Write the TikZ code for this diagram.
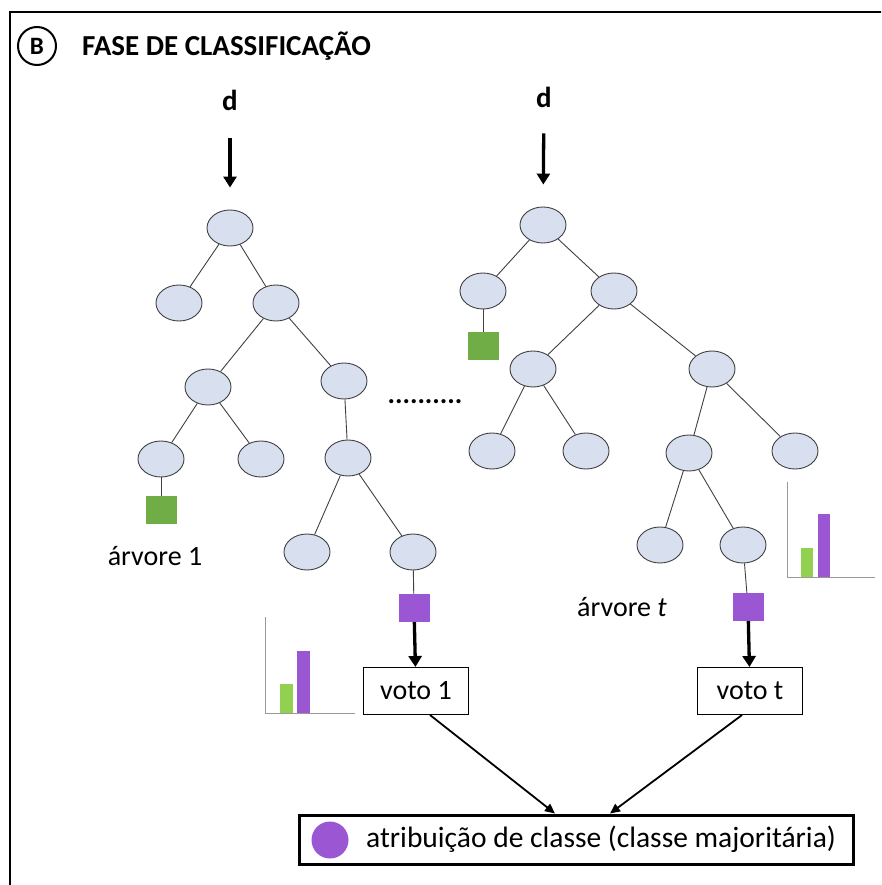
\documentclass[tikz,border=0pt]{standalone}
\usepackage{fontspec}
\setmainfont{Carlito}
\usepackage{xcolor}
\usepackage{tikz}
\usetikzlibrary{arrows.meta,positioning,shapes.geometric}

\definecolor{knotfill}{RGB}{216,223,238}
\definecolor{leafgreen}{RGB}{112,173,71}
\definecolor{barlime}{RGB}{146,208,80}
\definecolor{votepurple}{RGB}{155,87,211}

\begin{document}
\begin{tikzpicture}[
    x=1pt, y=-1pt,
    knot/.style={draw=black!75, ellipse, fill=knotfill, line width=0.9pt, minimum width=46pt, minimum height=36pt, inner sep=0pt},
    branch/.style={draw=black!75, line width=0.9pt},
    leaf/.style={rectangle, minimum width=31pt, minimum height=28pt, inner sep=0pt},
    vote/.style={draw, rectangle, line width=1pt, minimum width=105pt, minimum height=47pt, font=\fontsize{28}{32}\selectfont},
    txt/.style={font=\fontsize{28}{32}\selectfont, inner sep=0pt},
    bold/.style={font=\fontsize{29}{34}\selectfont\bfseries, inner sep=0pt},
    arr/.style={-{Triangle[length=11pt,width=13pt]}, line width=3.3pt},
    thinarr/.style={-{Triangle[length=10pt,width=9pt]}, line width=1.8pt},
    axis/.style={draw=black!40, line width=1pt},
]
\clip (0,0) rectangle (881,885);
\useasboundingbox (0,0) rectangle (881,885);

% Frame and title
\draw[line width=2.5pt] (10,895) -- (10,12) -- (895,12);
\node[draw, circle, line width=2pt, minimum size=38pt, inner sep=0pt, font=\fontsize{25}{28}\selectfont\bfseries] (badge) at (37,46) {B};
\node[bold, anchor=west] (title) at (82,46) {FASE DE CLASSIFICAÇÃO};

% Left tree
\node[bold] (dl) at (230,100) {d};
\node[knot] (l0) at (230,228) {};
\node[knot] (l1) at (179,303) {};
\node[knot] (l2) at (276,303) {};
\node[knot] (l21) at (208,387) {};
\node[knot] (l22) at (344,381) {};
\node[knot] (l211) at (161,459) {};
\node[knot] (l212) at (261,459) {};
\node[knot] (l221) at (348,458) {};
\node[knot] (l2211) at (307,552) {};
\node[knot] (l2212) at (413,552) {};
\node[leaf, fill=leafgreen] (lg) at (161,510) {};
\node[leaf, fill=votepurple] (lp) at (414,608) {};
\node[txt] (treel) at (155,556) {árvore 1};

\draw[branch] (l0) -- (l1);
\draw[branch] (l0) -- (l2);
\draw[branch] (l2) -- (l21);
\draw[branch] (l2) -- (l22);
\draw[branch] (l21) -- (l211);
\draw[branch] (l21) -- (l212);
\draw[branch] (l22) -- (l221);
\draw[branch] (l221) -- (l2211);
\draw[branch] (l221) -- (l2212);
\draw[branch] (l211) -- (lg);
\draw[branch] (l2212) -- (lp);
\draw[arr, shorten <=28pt, shorten >=22pt] (dl) -- (l0);

% Left vote
\node[vote] (voto1) at (416,691) {voto 1};
\draw[arr] (lp) -- (voto1);

% Left histogram
\coordinate (hl) at (265,713);
\draw[axis] (hl) ++(0,-96) |- ++(90,96);
\fill[barlime] (280,713) rectangle (293,684);
\fill[votepurple] (297,713) rectangle (310,651);

% Gap between trees
\node[bold, font=\fontsize{28}{32}\selectfont\bfseries] (gap) at (425,402) {..........};

% Right tree
\node[bold] (dr) at (544,97) {d};
\node[knot] (r0) at (543,225) {};
\node[knot] (r1) at (483,291) {};
\node[knot] (r2) at (614,291) {};
\node[knot] (r21) at (533,369) {};
\node[knot] (r22) at (712,369) {};
\node[knot] (r211) at (492,451) {};
\node[knot] (r212) at (586,451) {};
\node[knot] (r221) at (689,453) {};
\node[knot] (r222) at (795,451) {};
\node[knot] (r2211) at (660,545) {};
\node[knot] (r2212) at (743,545) {};
\node[leaf, fill=leafgreen] (rg) at (483,346) {};
\node[leaf, fill=votepurple] (rp) at (748,607) {};
\node[txt] (treer) at (622,607) {árvore \textit{t}};

\draw[branch] (r0) -- (r1);
\draw[branch] (r0) -- (r2);
\draw[branch] (r1) -- (rg);
\draw[branch] (r2) -- (r21);
\draw[branch] (r2) -- (r22);
\draw[branch] (r21) -- (r211);
\draw[branch] (r21) -- (r212);
\draw[branch] (r22) -- (r221);
\draw[branch] (r22) -- (r222);
\draw[branch] (r221) -- (r2211);
\draw[branch] (r221) -- (r2212);
\draw[branch] (r2212) -- (rp);
\draw[arr, shorten <=26pt, shorten >=22pt] (dr) -- (r0);

% Right vote
\node[vote] (votot) at (750,691) {voto t};
\draw[arr] (rp) -- (votot);

% Right histogram
\coordinate (hr) at (787,577);
\draw[axis] (hr) ++(0,-95) |- ++(88,95);
\fill[barlime] (801,577) rectangle (813,548);
\fill[votepurple] (818,577) rectangle (830,514);

% Majority class
\node[draw, rectangle, line width=3pt, minimum width=554pt, minimum height=49pt] (final) at (576,839.5) {};
\node[circle, fill=votepurple, minimum size=37pt, inner sep=0pt] (dot) at (330,840) {};
\node[txt, anchor=west, font=\fontsize{29.5}{34}\selectfont] (finaltxt) at (366,839) {atribuição de classe (classe majoritária)};
\draw[thinarr] ([xshift=14pt]voto1.south) -- ([xshift=-21pt]final.north);
\draw[thinarr] ([xshift=-8pt]votot.south) -- ([xshift=34pt]final.north);
\end{tikzpicture}
\end{document}
